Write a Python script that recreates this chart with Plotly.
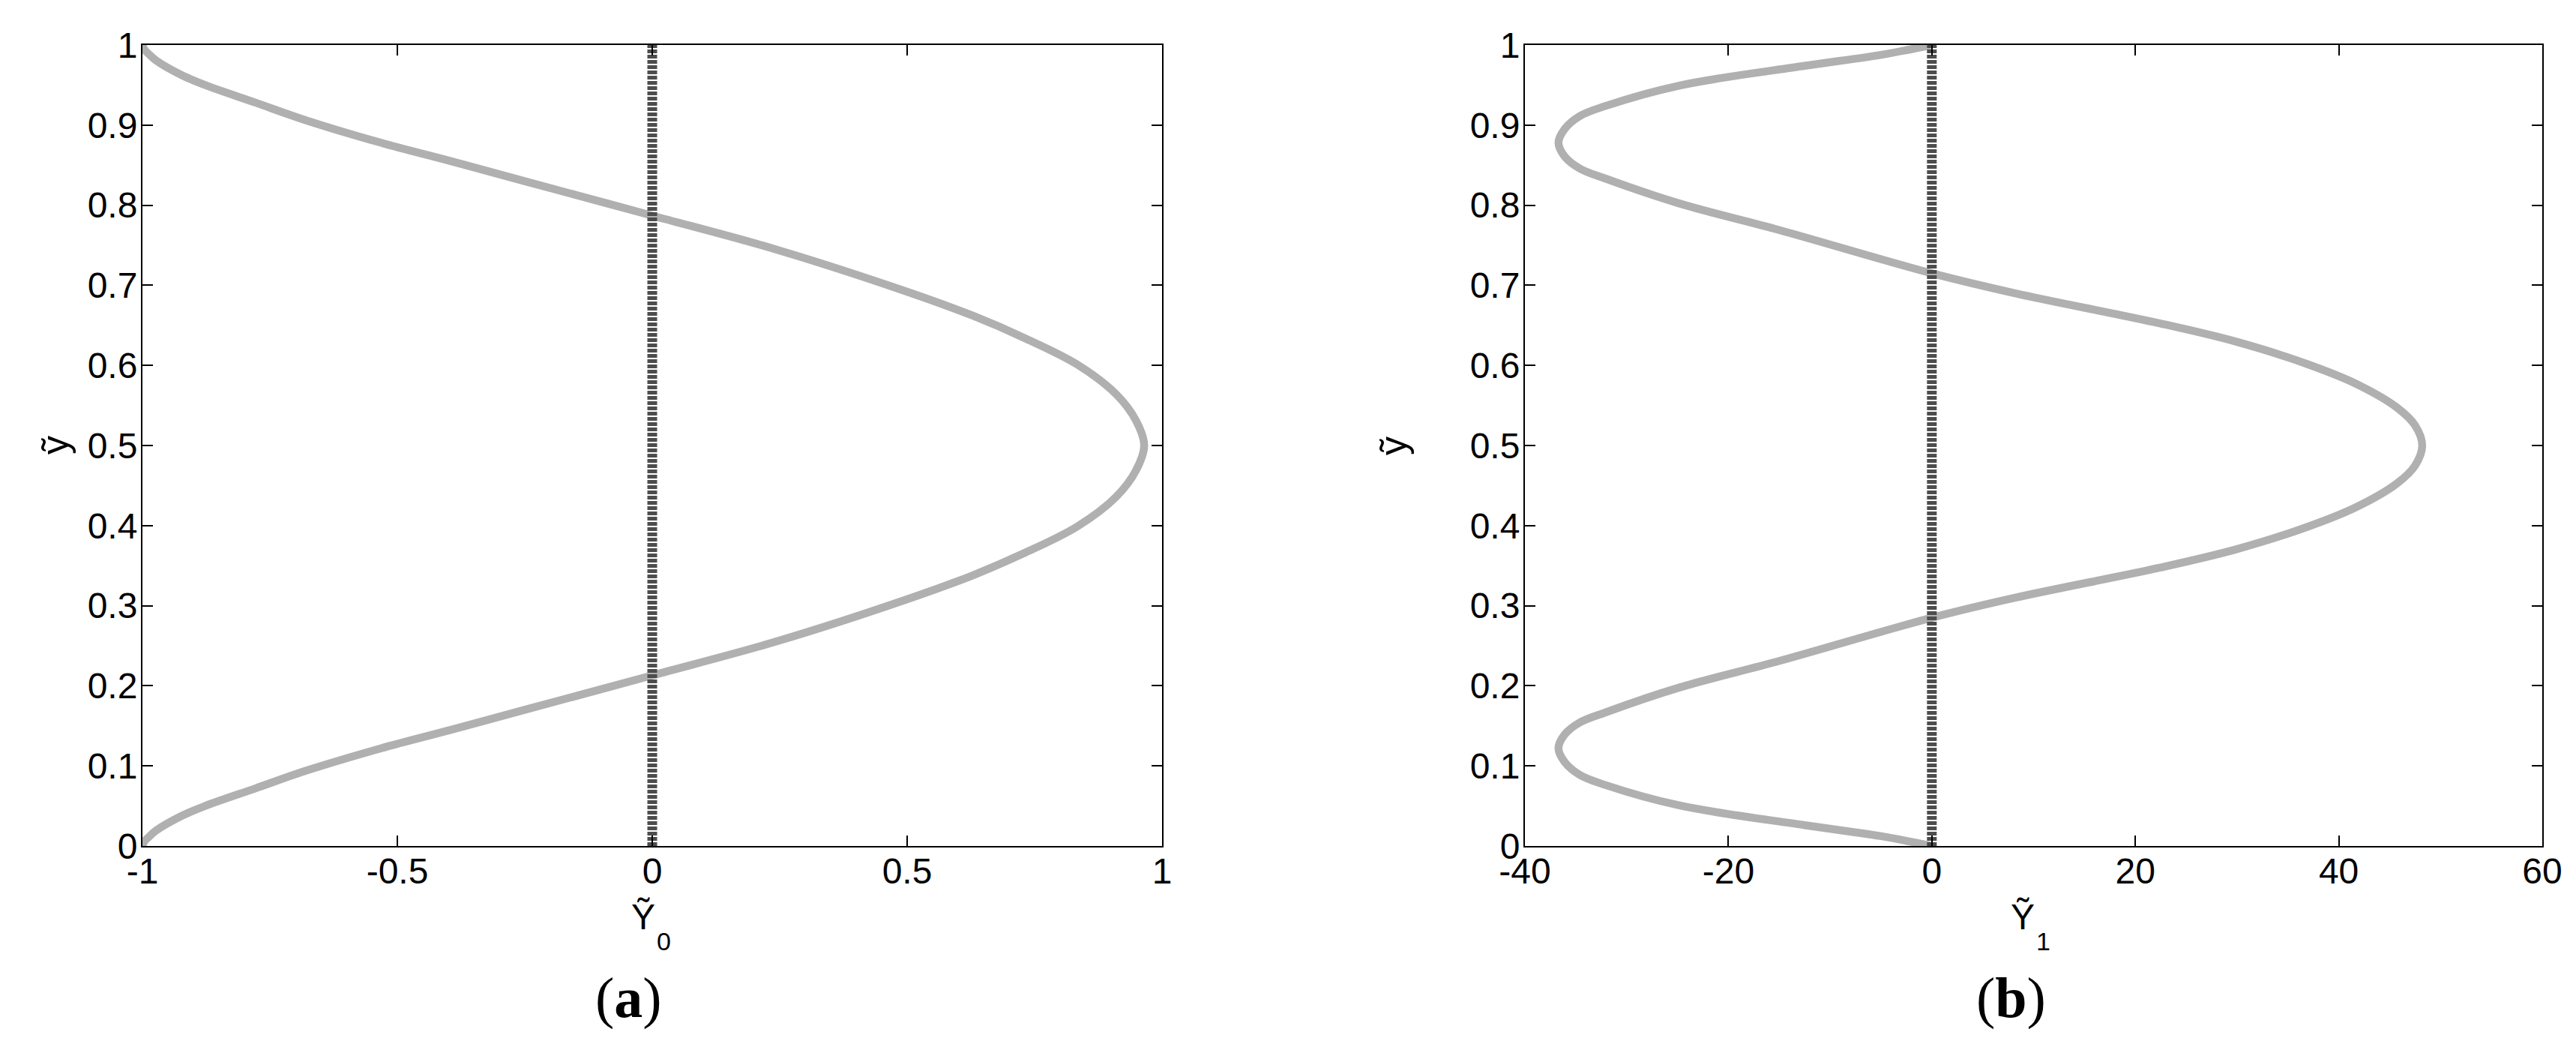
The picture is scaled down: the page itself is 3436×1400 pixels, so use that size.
import plotly.graph_objects as go

# panel (a): Y0 profile
Y_A = [0.000, 0.006, 0.011, 0.019, 0.037, 0.050, 0.072, 0.094, 0.122, 0.145,
       0.170, 0.213, 0.256, 0.308, 0.338, 0.366, 0.399, 0.436, 0.469, 0.500,
       0.531, 0.564, 0.601, 0.634, 0.662, 0.692, 0.744, 0.787, 0.830, 0.855,
       0.878, 0.906, 0.928, 0.950, 0.963, 0.981, 0.989, 0.994, 1.000]
Y0_VALUES = [-1.000, -0.996, -0.988, -0.974, -0.925, -0.877, -0.778, -0.679, -0.532, -0.395,
             -0.250, 0.000, 0.247, 0.500, 0.629, 0.731, 0.834, 0.910, 0.949, 0.965,
             0.949, 0.910, 0.834, 0.731, 0.629, 0.500, 0.247, 0.000, -0.250, -0.395,
             -0.532, -0.679, -0.778, -0.877, -0.925, -0.974, -0.988, -0.996, -1.000]

# panel (b): Y1 profile
Y_B = [0.000, 0.0125, 0.026, 0.0506, 0.0762, 0.0887, 0.105, 0.122, 0.139, 0.1542,
       0.1667, 0.1979, 0.231, 0.285, 0.310, 0.3475, 0.370, 0.397, 0.423, 0.4525,
       0.475, 0.500, 0.525, 0.5475, 0.577, 0.603, 0.630, 0.6525, 0.690, 0.715,
       0.769, 0.8021, 0.8333, 0.8458, 0.861, 0.878, 0.895, 0.9113, 0.9238, 0.9494,
       0.974, 0.9875, 1.000]
Y1_VALUES = [0.0, -5.1, -12.5, -24.8, -32.1, -34.6, -36.1, -36.7, -36.1, -34.6,
             -32.1, -24.8, -15.0, 0.0, 8.2, 22.4, 29.8, 36.6, 41.7, 45.7,
             47.5, 48.2, 47.5, 45.7, 41.7, 36.6, 29.8, 22.4, 8.2, 0.0,
             -15.0, -24.8, -32.1, -34.6, -36.1, -36.7, -36.1, -34.6, -32.1, -24.8,
             -12.5, -5.1, 0.0]

ZERO_LINE_Y = [0, 1]
ZERO_LINE_X = [0, 0]

X_TICKS_A = [-1, -0.5, 0, 0.5, 1]
X_TEXT_A = ["-1", "-0.5", "0", "0.5", "1"]
X_TICKS_B = [-40, -20, 0, 20, 40, 60]
X_TEXT_B = ["-40", "-20", "0", "20", "40", "60"]
Y_TICKS = [0, 0.1, 0.2, 0.3, 0.4, 0.5, 0.6, 0.7, 0.8, 0.9, 1]
Y_TEXT = ["0", "0.1", "0.2", "0.3", "0.4", "0.5", "0.6", "0.7", "0.8", "0.9", "1"]

W, H = 3436, 1400
SANS = "Liberation Sans, Arial, sans-serif"
SERIF = "Liberation Serif, Times New Roman, serif"
CURVE = "#b0b0b0"
DOTS = "#4d4d4d"

fig = go.Figure()
fig.add_trace(go.Scatter(x=Y0_VALUES, y=Y_A, mode="lines", xaxis="x", yaxis="y",
                         line=dict(color=CURVE, width=10.5, shape="spline", smoothing=1)))
fig.add_trace(go.Scatter(x=ZERO_LINE_X, y=ZERO_LINE_Y, mode="lines", xaxis="x", yaxis="y",
                         line=dict(color=DOTS, width=13, dash="5px,2px")))
fig.add_trace(go.Scatter(x=Y1_VALUES, y=Y_B, mode="lines", xaxis="x2", yaxis="y2",
                         line=dict(color=CURVE, width=10.5, shape="spline", smoothing=1)))
fig.add_trace(go.Scatter(x=ZERO_LINE_X, y=ZERO_LINE_Y, mode="lines", xaxis="x2", yaxis="y2",
                         line=dict(color=DOTS, width=13, dash="5px,2px")))

axis_style = dict(
    showline=True, linecolor="black", linewidth=2, mirror="ticks",
    ticks="inside", ticklen=14, tickwidth=2, tickcolor="black",
    showgrid=False, zeroline=False, automargin=False,
    tickfont=dict(family=SANS, size=48, color="black"),
)

y_dom = [1 - 1120 / H, 1 - 52 / H]
fig.update_layout(
    width=W, height=H,
    margin=dict(l=0, r=0, t=0, b=0),
    paper_bgcolor="white", plot_bgcolor="white",
    showlegend=False,
    xaxis=dict(domain=[182 / W, 1542 / W], range=[-1, 1], tickvals=X_TICKS_A,
               ticktext=X_TEXT_A, anchor="y", ticklabelstandoff=-10, **axis_style),
    yaxis=dict(domain=y_dom, range=[0, 1], tickvals=Y_TICKS, ticktext=Y_TEXT,
               anchor="x", ticklabelstandoff=-5, **axis_style),
    xaxis2=dict(domain=[2026 / W, 3383 / W], range=[-40, 60], tickvals=X_TICKS_B,
                ticktext=X_TEXT_B, anchor="y2", ticklabelstandoff=-10, **axis_style),
    yaxis2=dict(domain=y_dom, range=[0, 1], tickvals=Y_TICKS, ticktext=Y_TEXT,
                anchor="x2", ticklabelstandoff=-5, **axis_style),
)

# axis titles: tilde-Y with a subscript drawn below its right foot
for xc, sub in [(850, "0"), (2690, "1")]:
    fig.add_annotation(text="Ỹ", x=xc / W, y=1 - 1186 / H, xref="paper", yref="paper",
                       xanchor="center", yanchor="top", showarrow=False,
                       font=dict(family=SANS, size=48, color="black"))
    fig.add_annotation(text=sub, x=(xc + 16) / W, y=1 - 1226 / H, xref="paper", yref="paper",
                       xanchor="left", yanchor="top", showarrow=False,
                       font=dict(family=SANS, size=34, color="black"))
for xc in [66, 1851]:
    fig.add_annotation(text="ỹ", x=xc / W, y=1 - 586 / H, xref="paper", yref="paper",
                       xanchor="center", yanchor="middle", textangle=-90, showarrow=False,
                       font=dict(family=SANS, size=50, color="black"))
for xc, tag in [(830, "a"), (2674, "b")]:
    fig.add_annotation(text=f"(<b>{tag}</b>)", x=xc / W, y=1 - 1322 / H, xref="paper", yref="paper",
                       xanchor="center", yanchor="middle", showarrow=False,
                       font=dict(family=SERIF, size=76, color="black"))

fig.write_html("out.html")
